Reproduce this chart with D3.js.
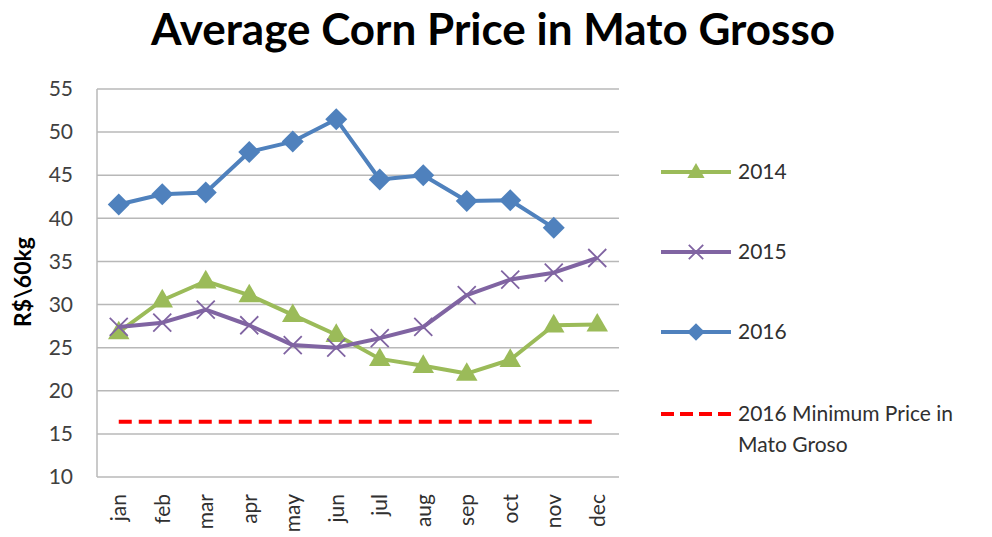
<!DOCTYPE html>
<html>
<head>
<meta charset="utf-8">
<script src="https://cdn.jsdelivr.net/npm/d3@7"></script>
<style>
  body { margin: 0; background: #fff; }
  svg { display: block; font-family: Lato, "Open Sans", sans-serif; }
</style>
</head>
<body>
<svg id="chart" width="992" height="537"></svg>
<script>
// chart data
var months = ['jan','feb','mar','apr','may','jun','jul','aug','sep','oct','nov','dec'];
var price2014 = [26.8, 30.5, 32.7, 31.1, 28.8, 26.5, 23.7, 22.9, 22.0, 23.6, 27.6, 27.7];
var price2015 = [27.4, 27.9, 29.4, 27.6, 25.3, 25.0, 26.1, 27.4, 31.1, 32.9, 33.7, 35.4];
var price2016 = [41.6, 42.8, 43.0, 47.7, 48.9, 51.5, 44.5, 45.0, 42.0, 42.1, 38.9];
var minPrice2016 = 16.4;
var yTicks = [10, 15, 20, 25, 30, 35, 40, 45, 50, 55];

var svg = d3.select('#chart');

// plot box (window.top is reserved, so no plain "top")
var plotLeft = 97, plotRight = 619, plotTop = 89, plotBottom = 477;

var x = d3.scaleBand().domain(months).range([plotLeft, plotRight]);
var y = d3.scaleLinear().domain([10, 55]).range([plotBottom, plotTop]);
var cx = function(m){ return x(m) + x.bandwidth()/2 };

// title
svg.append('text')
  .attr('x', 493).attr('y', 45)
  .attr('text-anchor', 'middle')
  .style('font-size', '44px')
  .style('font-weight', 'bold')
  .style('fill', '#000')
  .text('Average Corn Price in Mato Grosso');

// grid
svg.append('g').selectAll('line')
  .data(yTicks)
  .enter().append('line')
  .attr('x1', plotLeft).attr('x2', plotRight)
  .attr('y1', function(d){ return y(d) }).attr('y2', function(d){ return y(d) })
  .style('stroke', '#b8b8b8').style('stroke-width', 1.5);

svg.append('line')
  .attr('x1', plotLeft).attr('x2', plotLeft).attr('y1', plotTop).attr('y2', plotBottom)
  .style('stroke', '#b8b8b8').style('stroke-width', 1.5);

// y axis
var yAxis = svg.append('g')
  .attr('transform', 'translate(' + plotLeft + ',0)')
  .call(d3.axisLeft(y).tickValues(yTicks).tickSize(0).tickPadding(24));
yAxis.select('.domain').remove();
yAxis.selectAll('text')
  .style('font-size', '21px')
  .style('font-family', 'Lato, "Open Sans", sans-serif')
  .style('fill', '#404040');

// x axis
var xAxis = svg.append('g')
  .attr('transform', 'translate(0,' + plotBottom + ')')
  .call(d3.axisBottom(x).tickSize(0));
xAxis.select('.domain').remove();
xAxis.selectAll('text')
  .attr('transform', 'rotate(-90)')
  .attr('x', -17).attr('y', 0).attr('dy', '0.35em')
  .style('text-anchor', 'end')
  .style('font-size', '21px')
  .style('font-family', 'Lato, "Open Sans", sans-serif')
  .style('fill', '#303030');

// y label
svg.append('text')
  .attr('transform', 'translate(31,282) rotate(-90)')
  .attr('text-anchor', 'middle')
  .style('font-size', '23px')
  .style('font-weight', 'bold')
  .text('R$\\60kg');

// min price
svg.append('line')
  .attr('x1', cx('jan')).attr('x2', cx('dec'))
  .attr('y1', y(minPrice2016)).attr('y2', y(minPrice2016))
  .style('stroke', '#ff0000').style('stroke-width', 4)
  .style('stroke-dasharray', '13,7');

var line = d3.line()
  .x(function(d,i){ return cx(months[i]) })
  .y(function(d){ return y(d) });

var series = [
  { name: '2014', values: price2014, color: '#9bbb59', marker: 'triangle' },
  { name: '2015', values: price2015, color: '#8064a2', marker: 'x' },
  { name: '2016', values: price2016, color: '#4f81bd', marker: 'diamond' }
];

function drawMarker(g, type, color, px, py, scale) {
  scale = scale || 1;
  if (type === 'triangle') {
    g.append('path')
      .attr('d', d3.symbol().type(d3.symbolTriangle).size(200*scale*scale)())
      .attr('transform', 'translate(' + px + ',' + (py+1) + ')')
      .style('fill', color);
  } else if (type === 'diamond') {
    var s = 11*scale;
    g.append('path')
      .attr('d', 'M0,' + (-s) + 'L' + s + ',0L0,' + s + 'L' + (-s) + ',0Z')
      .attr('transform', 'translate(' + px + ',' + py + ')')
      .style('fill', color);
  } else {
    var s = 9*scale;
    g.append('path')
      .attr('d', 'M' + (-s) + ',' + (-s) + 'L' + s + ',' + s + 'M' + (-s) + ',' + s + 'L' + s + ',' + (-s))
      .attr('transform', 'translate(' + px + ',' + py + ')')
      .style('stroke', color).style('stroke-width', 1.8).style('fill', 'none');
  }
}

series.forEach(function(s){
  var g = svg.append('g');
  g.append('path')
    .datum(s.values)
    .attr('d', line)
    .style('fill', 'none')
    .style('stroke', s.color)
    .style('stroke-width', 4)
    .style('stroke-linejoin', 'round');
  s.values.forEach(function(v, i){
    drawMarker(g, s.marker, s.color, cx(months[i]), y(v));
  });
});

// legend
var legendY = [172, 252, 332];
series.forEach(function(s, i){
  var g = svg.append('g');
  g.append('line')
    .attr('x1', 661).attr('x2', 731).attr('y1', legendY[i]).attr('y2', legendY[i])
    .style('stroke', s.color).style('stroke-width', 4);
  drawMarker(g, s.marker, s.color, 696, legendY[i], 0.8);
  g.append('text')
    .attr('x', 738).attr('y', legendY[i]).attr('dy', '0.35em')
    .style('font-size', '21px').style('fill', '#303030')
    .text(s.name);
});

var lg = svg.append('g');
lg.append('line')
  .attr('x1', 661).attr('x2', 731).attr('y1', 414).attr('y2', 414)
  .style('stroke', '#ff0000').style('stroke-width', 4)
  .style('stroke-dasharray', '13,6');
lg.append('text')
  .attr('x', 738).attr('y', 414).attr('dy', '0.35em')
  .style('font-size', '21px').style('fill', '#303030')
  .text('2016 Minimum Price in');
lg.append('text')
  .attr('x', 738).attr('y', 445).attr('dy', '0.35em')
  .style('font-size', '21px').style('fill', '#303030')
  .text('Mato Groso');
</script>
</body>
</html>
